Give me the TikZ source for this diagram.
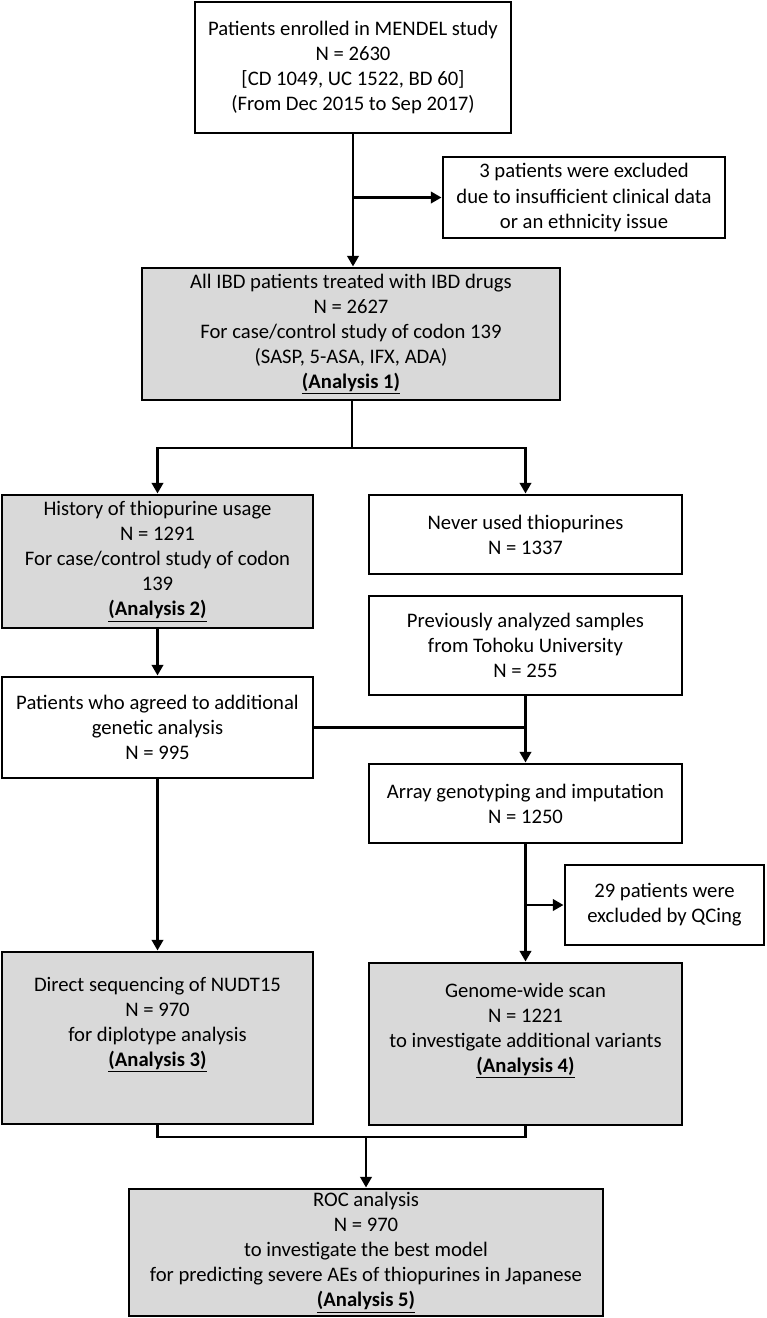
\documentclass[tikz,border=0pt]{standalone}
\usepackage{fontspec}
\setmainfont{Carlito}
\usetikzlibrary{arrows.meta}

\definecolor{boxgray}{RGB}{217,217,217}
\def\px{0.75pt}

\tikzset{
  plainbox/.style={draw=black, line width=2.2pt, fill=white, align=center,
    inner sep=2pt, font=\fontsize{15.5}{18.8}\selectfont},
  graybox/.style={plainbox, fill=boxgray},
  flow/.style={line width=2.2pt, -{Triangle[length=8pt,width=8.5pt]}},
  link/.style={line width=2.2pt}
}
\newcommand{\analysis}[1]{\textbf{\underline{(Analysis #1)}}}

\begin{document}
\begin{tikzpicture}[x=0.75pt, y=-0.75pt]

% Fix the page to the reference size
\useasboundingbox (0,0) rectangle (767,1318);

% Boxes
\node[plainbox, minimum width=316*\px, minimum height=131*\px] (enrol) at (353,67.5)
  {Patients enrolled in MENDEL study\\ N = 2630\\ {}[CD 1049, UC 1522, BD 60]\\ (From Dec 2015 to Sep 2017)};
\node[plainbox, minimum width=282*\px, minimum height=81*\px] (excl) at (584,197.5)
  {3 patients were excluded\\ due to insufficient clinical data\\ or an ethnicity issue};
\node[graybox, minimum width=418*\px, minimum height=132*\px] (ibd) at (351,334)
  {All IBD patients treated with IBD drugs\\ N = 2627\\ For case/control study of codon 139\\ (SASP, 5-ASA, IFX, ADA)\\ \analysis{1}};
\node[graybox, minimum width=311*\px, minimum height=133*\px] (hist) at (157.5,561.5)
  {History of thiopurine usage\\ N = 1291\\ For case/control study of codon\\ 139\\ \analysis{2}};
\node[plainbox, minimum width=313*\px, minimum height=79*\px] (never) at (525.5,534.5)
  {Never used thiopurines\\ N = 1337};
\node[plainbox, minimum width=313*\px, minimum height=99*\px] (prev) at (525.5,645.5)
  {Previously analyzed samples\\ from Tohoku University\\ N = 255};
\node[plainbox, minimum width=311*\px, minimum height=101*\px] (agreed) at (157.5,727.5)
  {Patients who agreed to additional\\ genetic analysis\\ N = 995};
\node[plainbox, minimum width=313*\px, minimum height=79*\px] (array) at (525.5,803.5)
  {Array genotyping and imputation\\ N = 1250};
\node[plainbox, minimum width=199*\px, minimum height=80*\px] (qc) at (664.5,905)
  {29 patients were\\ excluded by QCing};
% text sits high in these two, so an empty last line pushes it up
\node[graybox, minimum width=311*\px, minimum height=172*\px] (direct) at (157.5,1038)
  {Direct sequencing of NUDT15\\ N = 970\\ for diplotype analysis\\ \analysis{3}\\ \strut};
\node[graybox, minimum width=313*\px, minimum height=162*\px] (genome) at (525.5,1044)
  {Genome-wide scan\\ N = 1221\\ to investigate additional variants\\ \analysis{4}\\ \strut};
\node[graybox, minimum width=474*\px, minimum height=127*\px] (roc) at (366,1252.5)
  {ROC analysis\\ N = 970\\ to investigate the best model\\ for predicting severe AEs of thiopurines in Japanese\\ \analysis{5}};

% Junction points
\coordinate (split) at (352,448);
\coordinate (merge) at (366,1137);

% Connectors
\draw[flow] (enrol.south) -- (enrol.south |- ibd.north);
\draw[flow] (enrol.south |- excl.west) -- (excl.west);
\draw[link] (split |- ibd.south) -- (split);
\draw[flow] (split) -| (hist.north);
\draw[flow] (split) -| (never.north);
\draw[flow] (hist.south) -- (agreed.north);
\draw[flow] (prev.south) -- (array.north);
\draw[link] (agreed.east) -- (agreed.east -| prev.south);
\draw[flow] (agreed.south) -- (direct.north);
\draw[flow] (array.south) -- (genome.north);
\draw[flow] (array.south |- qc.west) -- (qc.west);
\draw[link] (direct.south) -- (direct.south |- merge) -- (genome.south |- merge) -- (genome.south);
\draw[flow] (merge) -- (roc.north);

\end{tikzpicture}
\end{document}
